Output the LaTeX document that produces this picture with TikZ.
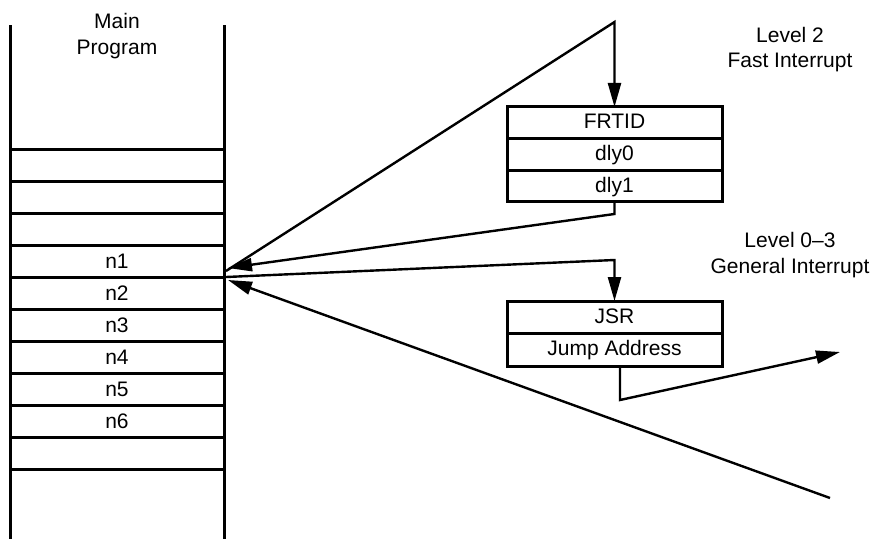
\documentclass[tikz,border=0pt]{standalone}
\usepackage{fontspec}
\setmainfont{Liberation Sans}
\usetikzlibrary{arrows.meta}
\newcommand{\fs}{\fontsize{21}{25}\selectfont}
\begin{document}
\begin{tikzpicture}[x=1pt,y=-1pt,
  colline/.style={line width=3pt},
  box/.style={draw, line width=3pt, minimum width=215pt, inner sep=0pt, outer sep=0pt,
              text height=12pt, text depth=0pt, font=\fs},
  rowtext/.style={anchor=base, inner sep=0pt, font=\fs},
  lbl/.style={anchor=base, inner sep=0pt, font=\fs},
  arr/.style={line width=2.4pt, -{Triangle[length=24pt,width=13pt]}}]
\useasboundingbox (0,0) rectangle (874,539);

% Main program column
\draw[colline] (10,25) -- (10,539);
\draw[colline] (224,25) -- (224,539);
\foreach \yy in {149,181,213,245,277,309,341,373,405,437,469}
  \draw[colline] (10,\yy) -- (224,\yy);
\node[lbl] (mainA) at (117,28) {Main};
\node[lbl] (mainB) at (117,54) {Program};
\foreach \i/\yy in {1/268.5,2/300.5,3/332.5,4/364.5,5/396.5,6/428.5}
  \node[rowtext] (n\i) at (117,\yy) {n\i};

% Fast interrupt box
\node[box, minimum height=31.67pt] (frtid) at (614.5,122.8) {FRTID};
\node[box, minimum height=31.67pt, anchor=north] (dly0) at (frtid.south) {dly0};
\node[box, minimum height=31.67pt, anchor=north] (dly1) at (dly0.south) {dly1};
\node[lbl] (lv2a) at (790,42) {Level 2};
\node[lbl] (lv2b) at (790,67) {Fast Interrupt};

% General interrupt box
\node[box, minimum height=32.5pt] (jsr) at (614.5,317.25) {JSR};
\node[box, minimum height=32.5pt, anchor=north] (jump) at (jsr.south) {Jump Address};
\node[lbl] (lv0a) at (790,247) {Level 0–3};
\node[lbl] (lv0b) at (790,273) {General Interrupt};

% connector points
\coordinate (hubA) at (226,271);
\coordinate (hubB) at (228,268);
\coordinate (hubC) at (226,277);
\coordinate (hubD) at (228,280);
\coordinate (topc) at (614.5,22);
\coordinate (turnC) at (614.5,260);
\coordinate (jdown) at (620,400);
\coordinate (jout) at (840,352);
\coordinate (bstart) at (830,498);

% connectors
\draw[arr] (hubA) -- (topc) -- (frtid.north);
\draw[arr] (dly1.south) -- ++(0,12) -- (hubB);
\draw[arr] (hubC) -- (turnC) -- (jsr.north);
\draw[arr] (jump.south -| jdown) -- (jdown) -- (jout);
\draw[arr] (bstart) -- (hubD);
\end{tikzpicture}
\end{document}
